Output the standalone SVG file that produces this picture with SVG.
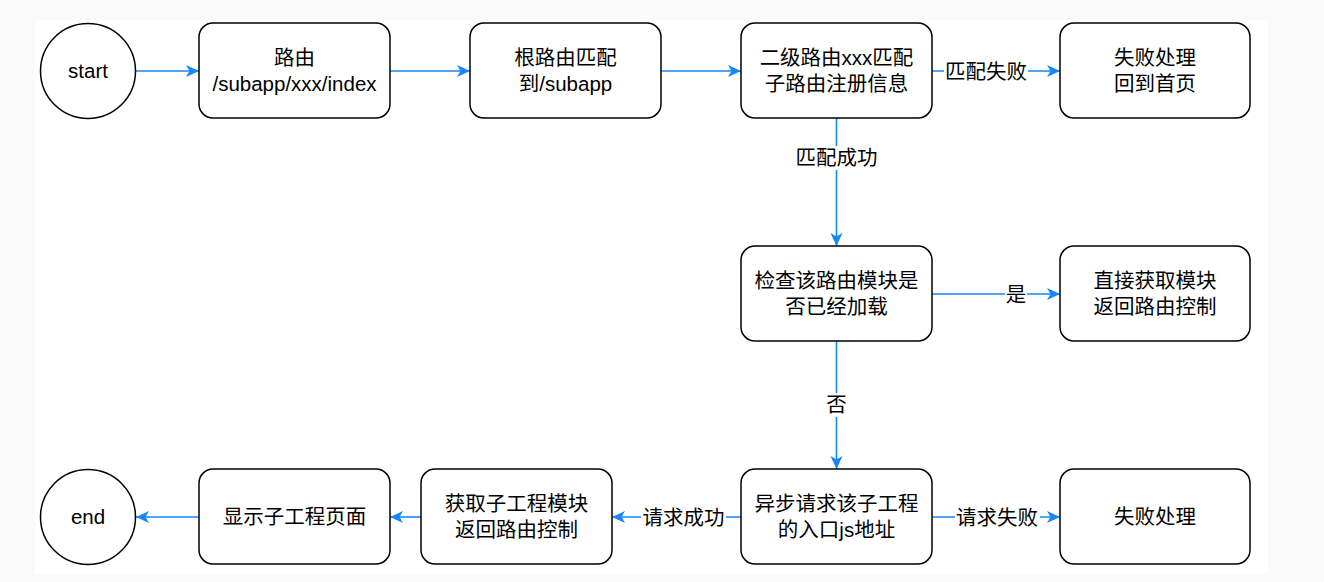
<svg xmlns="http://www.w3.org/2000/svg" width="1324" height="582" viewBox="0 0 1324 582">
<style>
.n{fill:#fff;stroke:#000;stroke-width:1.5}
.t{font-family:"Liberation Sans","Noto Sans CJK SC",sans-serif;font-size:20.5px;fill:#000;text-anchor:middle}
.e{fill:none;stroke:#1685FF;stroke-width:1.6}
.lb{fill:#fff}
</style>
<defs>
<marker id="a" markerUnits="userSpaceOnUse" markerWidth="14" markerHeight="13" refX="13" refY="6.5" orient="auto">
<path d="M0,0.5 L13,6.5 L0,12.5 L3.5,6.5 Z" fill="#1685FF"/>
</marker>
</defs>
<rect x="0" y="0" width="1324" height="582" fill="#fafafa"/>
<rect x="35" y="20" width="1233" height="554" fill="#fff"/>
<g id="connectors">
<path class="e" d="M136,71 L199,71" marker-end="url(#a)"/>
<path class="e" d="M390,71 L470,71" marker-end="url(#a)"/>
<path class="e" d="M661,71 L741,71" marker-end="url(#a)"/>
<path class="e" d="M932,71 L1060,71" marker-end="url(#a)"/>
<path class="e" d="M836.5,118 L836.5,246" marker-end="url(#a)"/>
<path class="e" d="M932,294 L1060,294" marker-end="url(#a)"/>
<path class="e" d="M836.5,341 L836.5,469" marker-end="url(#a)"/>
<path class="e" d="M932,517 L1060,517" marker-end="url(#a)"/>
<path class="e" d="M741,517 L612,517" marker-end="url(#a)"/>
<path class="e" d="M421,517 L390,517" marker-end="url(#a)"/>
<path class="e" d="M199,517 L136,517" marker-end="url(#a)"/>
<rect class="lb" x="944" y="60" width="84" height="24"/>
<text class="t" x="986" y="79">匹配失败</text>
<rect class="lb" x="794" y="146" width="85" height="24"/>
<text class="t" x="836.5" y="165">匹配成功</text>
<rect class="lb" x="1005" y="283" width="22" height="24"/>
<text class="t" x="1016" y="302">是</text>
<rect class="lb" x="825" y="393" width="23" height="24"/>
<text class="t" x="836.5" y="412">否</text>
<rect class="lb" x="641" y="506" width="85" height="24"/>
<text class="t" x="683.5" y="525">请求成功</text>
<rect class="lb" x="955" y="506" width="85" height="24"/>
<text class="t" x="997" y="525">请求失败</text>
</g>
<g id="start">
<circle class="n" cx="88" cy="71" r="47.5"/>
<text class="t" x="88" y="78">start</text>
</g>
<g id="route">
<rect class="n" x="199" y="23" width="191" height="95" rx="14"/>
<text class="t" x="294.5" y="65">路由</text>
<text class="t" x="294.5" y="91">/subapp/xxx/index</text>
</g>
<g id="root-match">
<rect class="n" x="470" y="23" width="191" height="95" rx="14"/>
<text class="t" x="565.5" y="65">根路由匹配</text>
<text class="t" x="565.5" y="91">到/subapp</text>
</g>
<g id="sub-match">
<rect class="n" x="741" y="23" width="191" height="95" rx="14"/>
<text class="t" x="836.5" y="65">二级路由xxx匹配</text>
<text class="t" x="836.5" y="91">子路由注册信息</text>
</g>
<g id="fail-home">
<rect class="n" x="1060" y="23" width="190" height="95" rx="14"/>
<text class="t" x="1155" y="65">失败处理</text>
<text class="t" x="1155" y="91">回到首页</text>
</g>
<g id="check-loaded">
<rect class="n" x="741" y="246" width="191" height="95" rx="14"/>
<text class="t" x="836.5" y="288">检查该路由模块是</text>
<text class="t" x="836.5" y="314">否已经加载</text>
</g>
<g id="direct-get">
<rect class="n" x="1060" y="246" width="190" height="95" rx="14"/>
<text class="t" x="1155" y="288">直接获取模块</text>
<text class="t" x="1155" y="314">返回路由控制</text>
</g>
<g id="async-request">
<rect class="n" x="741" y="469" width="191" height="95" rx="14"/>
<text class="t" x="836.5" y="511">异步请求该子工程</text>
<text class="t" x="836.5" y="537">的入口js地址</text>
</g>
<g id="fail">
<rect class="n" x="1060" y="469" width="190" height="95" rx="14"/>
<text class="t" x="1155" y="524">失败处理</text>
</g>
<g id="get-module">
<rect class="n" x="421" y="469" width="191" height="95" rx="14"/>
<text class="t" x="516.5" y="511">获取子工程模块</text>
<text class="t" x="516.5" y="537">返回路由控制</text>
</g>
<g id="show-page">
<rect class="n" x="199" y="469" width="191" height="95" rx="14"/>
<text class="t" x="294.5" y="524">显示子工程页面</text>
</g>
<g id="end">
<circle class="n" cx="88" cy="517" r="47.5"/>
<text class="t" x="88" y="524">end</text>
</g>
</svg>
